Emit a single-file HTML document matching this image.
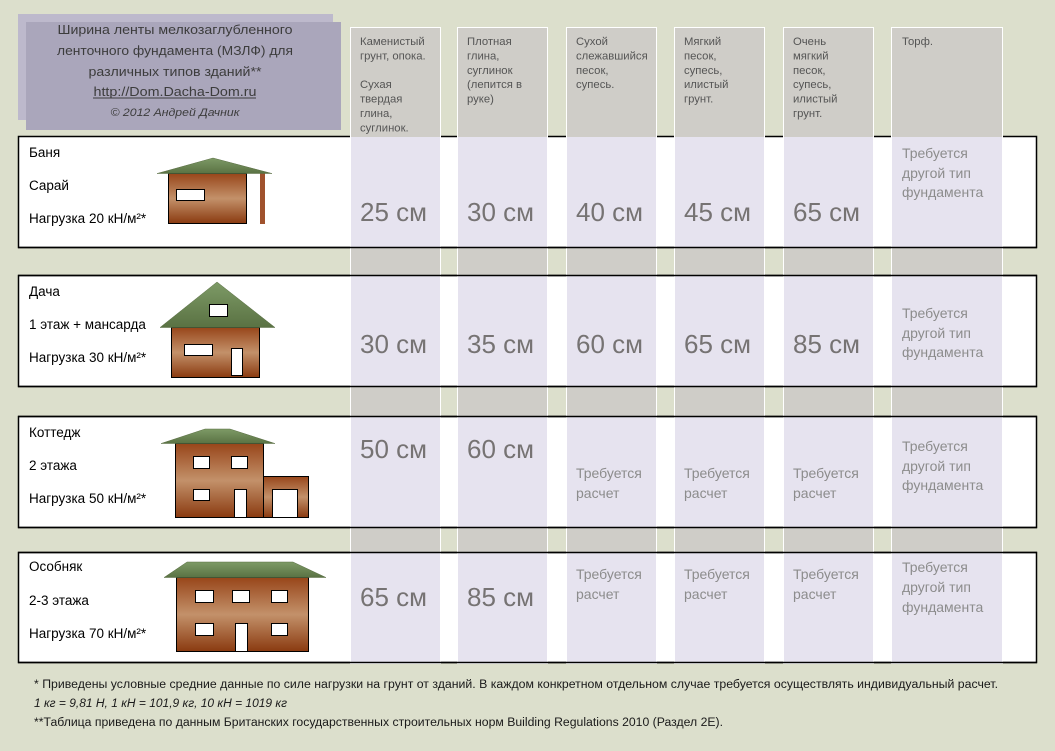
<!DOCTYPE html>
<html><head><meta charset="utf-8"><style>
html,body{margin:0;padding:0;background:#dcdfcc;}
svg{display:block;}
text{font-family:"Liberation Sans","Noto Sans CJK SC",sans-serif;}
</style></head><body>
<svg width="1055" height="751" viewBox="0 0 1055 751" xmlns="http://www.w3.org/2000/svg">
<defs>
<linearGradient id="br" x1="0" y1="0" x2="0" y2="1">
<stop offset="0" stop-color="#98461a"/><stop offset="0.5" stop-color="#c3916a"/><stop offset="1" stop-color="#8a3a10"/>
</linearGradient>
<linearGradient id="rf" x1="0" y1="0" x2="0" y2="1">
<stop offset="0" stop-color="#7d9a66"/><stop offset="1" stop-color="#5a7243"/>
</linearGradient>
</defs>
<rect x="0" y="0" width="1055" height="751" fill="#dcdfcc"/>

<!-- title box -->
<rect x="18" y="14" width="315" height="106" fill="#bdb9cc"/>
<rect x="26" y="22" width="315" height="108" fill="#aaa6bb"/>
<g fill="#3c3c3c" font-size="13" text-anchor="middle">
<text x="175" y="34" textLength="235" lengthAdjust="spacingAndGlyphs">Ширина ленты  мелкозаглубленного</text>
<text x="175" y="55" textLength="236" lengthAdjust="spacingAndGlyphs">ленточного фундамента (МЗЛФ)  для</text>
<text x="175" y="76" textLength="173" lengthAdjust="spacingAndGlyphs">различных типов зданий**</text>
<text x="175" y="96" textLength="163" lengthAdjust="spacingAndGlyphs">http://Dom.Dacha-Dom.ru</text>
<text x="175" y="116" font-size="11" font-style="italic" textLength="129" lengthAdjust="spacingAndGlyphs">© 2012 Андрей Дачник</text>
</g>
<line x1="93" y1="98" x2="256" y2="98" stroke="#3c3c3c" stroke-width="1"/>

<!-- rows -->
<g fill="#ffffff" stroke="#000" stroke-width="1.5">
<rect x="18.5" y="136.5" width="1018" height="111"/>
<rect x="18.5" y="275.5" width="1018" height="111"/>
<rect x="18.5" y="416.5" width="1018" height="111"/>
<rect x="18.5" y="552.5" width="1018" height="110"/>
</g>

<!-- columns -->
<g stroke="#ffffff" stroke-width="1" fill="#cfcdc8">
<rect x="350.5" y="27.5" width="90" height="636"/>
<rect x="457.5" y="27.5" width="90" height="636"/>
<rect x="566.5" y="27.5" width="90" height="636"/>
<rect x="674.5" y="27.5" width="90" height="636"/>
<rect x="783.5" y="27.5" width="90" height="636"/>
<rect x="891.5" y="27.5" width="111" height="636"/>
</g>
<g fill="#e6e3ef">
<rect x="351" y="137" width="89" height="110"/><rect x="458" y="137" width="89" height="110"/><rect x="567" y="137" width="89" height="110"/><rect x="675" y="137" width="89" height="110"/><rect x="784" y="137" width="89" height="110"/><rect x="892" y="137" width="110" height="110"/>
<rect x="351" y="276" width="89" height="110"/><rect x="458" y="276" width="89" height="110"/><rect x="567" y="276" width="89" height="110"/><rect x="675" y="276" width="89" height="110"/><rect x="784" y="276" width="89" height="110"/><rect x="892" y="276" width="110" height="110"/>
<rect x="351" y="417" width="89" height="110"/><rect x="458" y="417" width="89" height="110"/><rect x="567" y="417" width="89" height="110"/><rect x="675" y="417" width="89" height="110"/><rect x="784" y="417" width="89" height="110"/><rect x="892" y="417" width="110" height="110"/>
<rect x="351" y="553" width="89" height="110"/><rect x="458" y="553" width="89" height="110"/><rect x="567" y="553" width="89" height="110"/><rect x="675" y="553" width="89" height="110"/><rect x="784" y="553" width="89" height="110"/><rect x="892" y="553" width="110" height="110"/>
</g>

<!-- row horizontal borders over columns -->
<g stroke="#000" stroke-width="1.5">
<line x1="18" y1="247.5" x2="1037" y2="247.5"/>
<line x1="18" y1="275.5" x2="1037" y2="275.5"/>
<line x1="18" y1="386.5" x2="1037" y2="386.5"/>
<line x1="18" y1="416.5" x2="1037" y2="416.5"/>
<line x1="18" y1="527.5" x2="1037" y2="527.5"/>
<line x1="18" y1="552.5" x2="1037" y2="552.5"/>
<line x1="18" y1="662.5" x2="1037" y2="662.5"/>
</g>

<!-- column headers -->
<g fill="#555555" font-size="11.3">
<text x="360" y="45">Каменистый</text>
<text x="360" y="59.4">грунт, опока.</text>
<text x="360" y="88.2">Сухая</text>
<text x="360" y="102.6">твердая</text>
<text x="360" y="117">глина,</text>
<text x="360" y="131.4">суглинок.</text>

<text x="467" y="45">Плотная</text>
<text x="467" y="59.4">глина,</text>
<text x="467" y="73.8">суглинок</text>
<text x="467" y="88.2">(лепится в</text>
<text x="467" y="102.6">руке)</text>

<text x="576" y="45">Сухой</text>
<text x="576" y="59.4">слежавшийся</text>
<text x="576" y="73.8">песок,</text>
<text x="576" y="88.2">супесь.</text>

<text x="684" y="45">Мягкий</text>
<text x="684" y="59.4">песок,</text>
<text x="684" y="73.8">супесь,</text>
<text x="684" y="88.2">илистый</text>
<text x="684" y="102.6">грунт.</text>

<text x="793" y="45">Очень</text>
<text x="793" y="59.4">мягкий</text>
<text x="793" y="73.8">песок,</text>
<text x="793" y="88.2">супесь,</text>
<text x="793" y="102.6">илистый</text>
<text x="793" y="117">грунт.</text>

<text x="902" y="45">Торф.</text>
</g>

<!-- left labels -->
<g fill="#000" font-size="13.5">
<text x="29" y="157">Баня</text>
<text x="29" y="190">Сарай</text>
<text x="29" y="223">Нагрузка 20 кН/м²*</text>
<text x="29" y="296">Дача</text>
<text x="29" y="329">1 этаж + мансарда</text>
<text x="29" y="362">Нагрузка 30 кН/м²*</text>
<text x="29" y="437">Коттедж</text>
<text x="29" y="470">2 этажа</text>
<text x="29" y="503">Нагрузка 50 кН/м²*</text>
<text x="29" y="571">Особняк</text>
<text x="29" y="605">2-3 этажа</text>
<text x="29" y="638">Нагрузка 70 кН/м²*</text>
</g>

<!-- big values -->
<g fill="#767373" font-size="26">
<text x="360" y="221">25 см</text>
<text x="467" y="221">30 см</text>
<text x="576" y="221">40 см</text>
<text x="684" y="221">45 см</text>
<text x="793" y="221">65 см</text>

<text x="360" y="353">30 см</text>
<text x="467" y="353">35 см</text>
<text x="576" y="353">60 см</text>
<text x="684" y="353">65 см</text>
<text x="793" y="353">85 см</text>

<text x="360" y="458">50 см</text>
<text x="467" y="458">60 см</text>

<text x="360" y="606">65 см</text>
<text x="467" y="606">85 см</text>
</g>

<!-- requires text -->
<g fill="#8c8c8c" font-size="14">
<text x="902" y="158">Требуется</text>
<text x="902" y="178">другой тип</text>
<text x="902" y="197">фундамента</text>

<text x="902" y="318">Требуется</text>
<text x="902" y="338">другой тип</text>
<text x="902" y="357">фундамента</text>

<text x="576" y="478">Требуется</text>
<text x="576" y="498">расчет</text>
<text x="684" y="478">Требуется</text>
<text x="684" y="498">расчет</text>
<text x="793" y="478">Требуется</text>
<text x="793" y="498">расчет</text>
<text x="902" y="451">Требуется</text>
<text x="902" y="471">другой тип</text>
<text x="902" y="490">фундамента</text>

<text x="576" y="579">Требуется</text>
<text x="576" y="599">расчет</text>
<text x="684" y="579">Требуется</text>
<text x="684" y="599">расчет</text>
<text x="793" y="579">Требуется</text>
<text x="793" y="599">расчет</text>
<text x="902" y="572">Требуется</text>
<text x="902" y="592">другой тип</text>
<text x="902" y="612">фундамента</text>
</g>

<!-- houses -->
<g stroke="#000" stroke-width="1">
<rect x="168.5" y="173.5" width="78" height="50" fill="url(#br)"/>
<rect x="176.5" y="189.5" width="28" height="11" fill="#fff"/>
<rect x="260" y="173" width="5" height="51" fill="#a0522d" stroke="none"/>
<polygon points="157,173.5 213,158 272,173.5" fill="url(#rf)" stroke="#5a6e44" stroke-width="0.5"/>

<rect x="171.5" y="327.5" width="88" height="50" fill="url(#br)"/>
<polygon points="160,327.5 217,282 275,327.5" fill="url(#rf)" stroke="#5a6e44" stroke-width="0.5"/>
<rect x="209.5" y="304.5" width="18" height="12" fill="#fff"/>
<rect x="184.5" y="344.5" width="28" height="11" fill="#fff"/>
<rect x="231.5" y="348.5" width="11" height="27" fill="#fff"/>

<rect x="175.5" y="443.5" width="88" height="74" fill="url(#br)"/>
<rect x="263.5" y="476.5" width="45" height="41" fill="url(#br)"/>
<polygon points="161,443.5 205,429 230,429 275,443.5" fill="url(#rf)" stroke="#5a6e44" stroke-width="0.5"/>
<rect x="193.5" y="456.5" width="16" height="12" fill="#fff"/>
<rect x="231.5" y="456.5" width="16" height="12" fill="#fff"/>
<rect x="193.5" y="489.5" width="16" height="11" fill="#fff"/>
<rect x="234.5" y="489.5" width="12" height="28" fill="#fff"/>
<rect x="272.5" y="489.5" width="25" height="28" fill="#fff"/>

<rect x="176.5" y="577.5" width="132" height="74" fill="url(#br)"/>
<polygon points="164,577.5 187,562 293,562 326,577.5" fill="url(#rf)" stroke="#5a6e44" stroke-width="0.5"/>
<rect x="195.5" y="590.5" width="18" height="12" fill="#fff"/>
<rect x="232.5" y="590.5" width="17" height="12" fill="#fff"/>
<rect x="271.5" y="590.5" width="16" height="12" fill="#fff"/>
<rect x="195.5" y="623.5" width="18" height="12" fill="#fff"/>
<rect x="271.5" y="623.5" width="16" height="12" fill="#fff"/>
<rect x="235.5" y="623.5" width="12" height="28" fill="#fff"/>
</g>

<!-- footnotes -->
<g fill="#1a1a1a" font-size="11.5">
<text x="34" y="688" textLength="964" lengthAdjust="spacingAndGlyphs">* Приведены условные средние данные по силе нагрузки на грунт от зданий.  В каждом конкретном отдельном случае  требуется осуществлять индивидуальный  расчет.</text>
<text x="34" y="707" font-style="italic" textLength="253" lengthAdjust="spacingAndGlyphs">1 кг = 9,81 Н,  1 кН = 101,9 кг,  10 кН = 1019 кг</text>
<text x="34" y="726" textLength="689" lengthAdjust="spacingAndGlyphs">**Таблица приведена по данным  Британских государственных строительных норм Building Regulations  2010 (Раздел 2E).</text>
</g>
</svg>
</body></html>
